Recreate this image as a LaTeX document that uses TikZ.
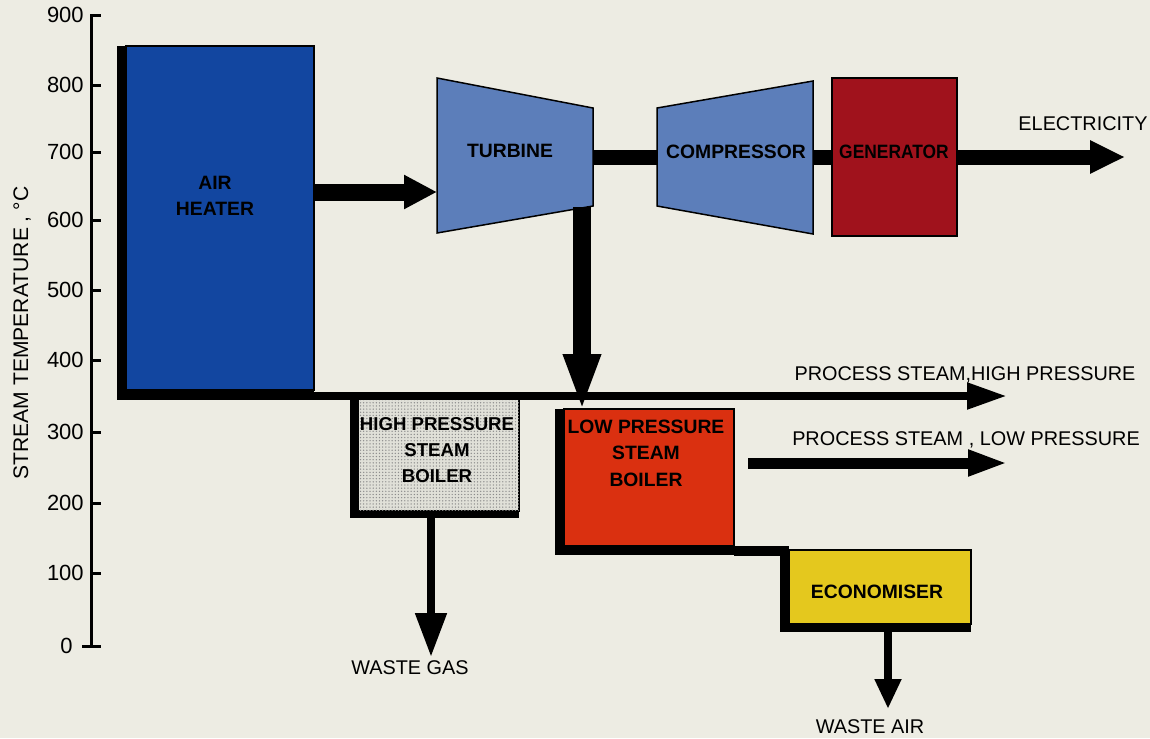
\documentclass[tikz,border=0pt]{standalone}
\usepackage{fontspec}
\setmainfont{Liberation Sans}
\usetikzlibrary{arrows.meta,backgrounds,patterns.meta}
\definecolor{paper}{RGB}{237,236,227}
\definecolor{airblue}{RGB}{18,70,160}
\definecolor{steel}{RGB}{92,126,186}
\definecolor{genred}{RGB}{160,18,28}
\definecolor{lpred}{RGB}{218,48,16}
\definecolor{econy}{RGB}{228,200,30}
\definecolor{hpgray}{RGB}{224,224,216}
\begin{document}
\begin{tikzpicture}[x=0.02cm,y=-0.02cm,line join=miter,
  box/.style={draw=black,line width=0.05cm,inner sep=0pt,outer sep=0pt},
  lbl/.style={font=\fontsize{11.3}{13}\selectfont,inner sep=0pt},
  blab/.style={font=\bfseries\fontsize{11}{14.6}\selectfont,align=center,inner sep=0pt},
  axlab/.style={font=\fontsize{12.5}{14}\selectfont,inner sep=0pt,anchor=east},
  machine/.style={fill=steel,draw=black,line width=0.03cm}]
\useasboundingbox (0,0) rectangle (1150,738);
\begin{scope}[on background layer]
  \fill[paper] (0,0) rectangle (1150,738);
\end{scope}

% axis
\draw[line width=0.06cm] (91,14) -- (91,646);
\foreach \v/\yy in {900/15,800/85,700/152,600/220,500/290,400/360,300/432,200/503,100/573}{
  \draw[line width=0.06cm] (91,\yy) -- (101,\yy);
  \node[axlab] (tk\v) at (84,\yy) {\v};
}
\draw[line width=0.06cm] (82,646) -- (101,646);
\node[axlab] (tk0) at (73,646) {0};
\node[rotate=90,font=\fontsize{12}{14}\selectfont,inner sep=0pt] (ytitle) at (22,333) {STREAM TEMPERATURE , °C};

% boxes
\node[box,fill=airblue,minimum width=3.76cm,minimum height=6.88cm] (ah) at (220,218) {};
\node[blab] (ahl) at (215,196) {AIR\\HEATER};

\node[box,fill=hpgray,minimum width=3.22cm,minimum height=2.28cm,
      postaction={pattern={Dots[distance=1.8pt,radius=0.42pt]},pattern color=black!45}] (hp) at (438.5,454) {};
\node[blab,font=\bfseries\fontsize{10.6}{14.7}\selectfont] (hpl) at (437,450) {HIGH PRESSURE\\STEAM\\BOILER};

\node[box,fill=lpred,minimum width=3.40cm,minimum height=2.74cm] (lp) at (649,477.5) {};
\node[blab,font=\bfseries\fontsize{11}{15}\selectfont] (lpl) at (646,453) {LOW PRESSURE\\STEAM\\BOILER};

\node[box,fill=econy,minimum width=3.64cm,minimum height=1.48cm] (ec) at (880,587) {};
\node[blab] (ecl) at (877,592) {ECONOMISER};

\node[box,fill=genred,minimum width=2.50cm,minimum height=3.16cm] (gen) at (894.5,157) {};
\node[blab] (genl) at (894,152) {\scalebox{0.9}[1]{GENERATOR}};

% turbine and compressor
\coordinate (tNW) at (437,78); \coordinate (tNE) at (593,108);
\coordinate (tSE) at (593,206); \coordinate (tSW) at (437,233);
\draw[machine] (tNW) -- (tNE) -- (tSE) -- (tSW) -- cycle;
\node[blab] (tul) at (510,151) {TURBINE};
\coordinate (cNW) at (657,108); \coordinate (cNE) at (813,81);
\coordinate (cSE) at (813,234); \coordinate (cSW) at (657,206);
\draw[machine] (cNW) -- (cNE) -- (cSE) -- (cSW) -- cycle;
\node[blab] (col) at (736,152) {COMPRESSOR};

% shadows (thick left and bottom edges)
\begin{scope}[on background layer]
  \fill[black] ([shift={(-9,0)}]ah.north west) rectangle ([shift={(0,10)}]ah.south east);
  \fill[black] ([shift={(-8,0)}]hp.north west) rectangle ([shift={(0,7)}]hp.south east);
  \fill[black] ([shift={(-9,0)}]lp.north west) rectangle ([shift={(0,9)}]lp.south east);
  \fill[black] ([shift={(-9,0)}]ec.north west) rectangle ([shift={(0,8)}]ec.south east);
  \fill[black] (lp.south east) rectangle ([shift={(0,6)}]ec.north west);
\end{scope}

% connector end points
\coordinate (ahSW) at ([shift={(-9,0)}]ah.south west);
\coordinate (tIn) at (437,192);
\coordinate (tSh) at (593,157);
\coordinate (cIn) at (657,157);
\coordinate (cOut) at (813,157);
\coordinate (elec) at (1125,157);
\coordinate (tDown) at (582,207);
\coordinate (lpIn) at (582,411);
\coordinate (hpOut) at (1007,396);
\coordinate (lpsS) at (748,463);
\coordinate (lpsE) at (1008,463);
\coordinate (wg) at (431,657);
\coordinate (wa) at (888,709);

% flows
\draw[line width=0.16cm,-{Triangle[length=0.8cm,width=0.5cm]}] (ahSW |- hpOut) -- (hpOut);
\draw[line width=0.22cm,-{Triangle[length=0.8cm,width=0.48cm]}] (lpsS) -- (lpsE);
\draw[line width=0.34cm,-{Triangle[length=0.66cm,width=0.64cm]}] (ah.east |- tIn) -- (tIn);
\draw[line width=0.3cm] (tSh) -- (cIn);
\draw[line width=0.3cm] (cOut) -- (gen.west |- cOut);
\draw[line width=0.3cm,-{Triangle[length=0.7cm,width=0.62cm]}] (gen.east |- elec) -- (elec);
\draw[line width=0.36cm,-{Triangle[length=1.14cm,width=0.68cm]}] (tDown) -- (lpIn);
\draw[line width=0.16cm,-{Triangle[length=0.88cm,width=0.6cm]}] (hp.south -| wg) -- (wg);
\draw[line width=0.16cm,-{Triangle[length=0.6cm,width=0.5cm]}] (ec.south -| wa) -- (wa);

% outside labels
\node[lbl] (elecl) at (1083,124) {ELECTRICITY};
\node[lbl] (hpsl) at (965,375) {PROCESS STEAM,HIGH PRESSURE};
\node[lbl] (lpsl) at (966,440) {PROCESS STEAM , LOW PRESSURE};
\node[lbl] (wgl) at (410,668) {WASTE GAS};
\node[lbl] (wal) at (870,727) {WASTE AIR};
\end{tikzpicture}
\end{document}
